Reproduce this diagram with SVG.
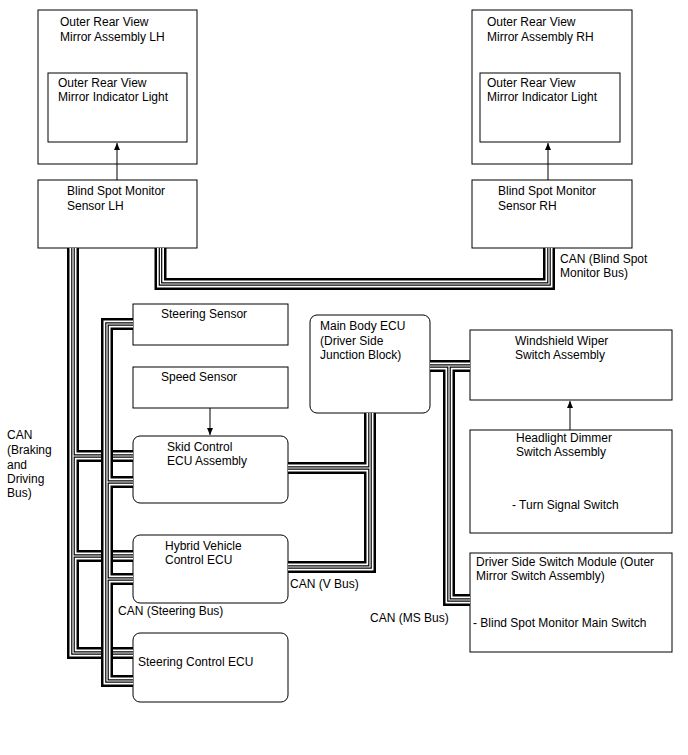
<svg xmlns="http://www.w3.org/2000/svg" width="688" height="755" viewBox="0 0 688 755">
<style>
text{font-family:"Liberation Sans",Arial,sans-serif;font-size:12px;fill:#000}
.box{fill:#fff;stroke:#000;stroke-width:1}
.b1{fill:none;stroke:#000;stroke-width:12}
.b2{fill:none;stroke:#fff;stroke-width:7}
.b3{fill:none;stroke:#000;stroke-width:3.6}
.b4{fill:none;stroke:#fff;stroke-width:1.2}
.arr{stroke:#000;stroke-width:1;fill:none;marker-end:url(#ah)}
</style>
<defs>
<marker id="ah" markerWidth="8" markerHeight="8" refX="7" refY="4" orient="auto" markerUnits="userSpaceOnUse">
<path d="M0,1 L7,4 L0,7 Z" fill="#000"/>
</marker>
<path id="busBSM" d="M160.5,248 V284 H549 V248"/>
<path id="busBD" d="M73,248 V653 H133 M73,456 H133 M73,556 H133"/>
<path id="busST" d="M133,324 H107 V681 H133 M107,482 H133 M107,579 H133"/>
<path id="busV" d="M370,413 V567 H288 M370,468 H288"/>
<path id="busMS" d="M430,366 H470 M449,366 V600 H470"/>
</defs>
<g id="mirrorLH">
<rect class="box" x="38" y="10" width="159" height="154"/>
<text x="60" y="26">Outer Rear View</text>
<text x="60" y="41">Mirror Assembly LH</text>
</g>
<g id="indicatorLH">
<rect class="box" x="48" y="73" width="139" height="69"/>
<text x="58" y="87">Outer Rear View</text>
<text x="58" y="101">Mirror Indicator Light</text>
</g>
<g id="sensorLH">
<rect class="box" x="38" y="180" width="159" height="68"/>
<text x="67" y="195">Blind Spot Monitor</text>
<text x="67" y="210">Sensor LH</text>
</g>
<g id="mirrorRH">
<rect class="box" x="472" y="10" width="160" height="154"/>
<text x="487" y="26">Outer Rear View</text>
<text x="487" y="41">Mirror Assembly RH</text>
</g>
<g id="indicatorRH">
<rect class="box" x="480" y="73" width="140" height="69"/>
<text x="487" y="87">Outer Rear View</text>
<text x="487" y="101">Mirror Indicator Light</text>
</g>
<g id="sensorRH">
<rect class="box" x="472" y="180" width="160" height="68"/>
<text x="498" y="195">Blind Spot Monitor</text>
<text x="498" y="210">Sensor RH</text>
</g>
<g id="steeringSensor">
<rect class="box" x="133" y="304" width="155" height="41"/>
<text x="161" y="318">Steering Sensor</text>
</g>
<g id="speedSensor">
<rect class="box" x="133" y="367" width="155" height="41"/>
<text x="161" y="381">Speed Sensor</text>
</g>
<g id="skidControl">
<rect class="box" x="133" y="436" width="155" height="67" rx="7"/>
<text x="167" y="451">Skid Control</text>
<text x="167" y="465">ECU Assembly</text>
</g>
<g id="hybridECU">
<rect class="box" x="133" y="535" width="155" height="68" rx="7"/>
<text x="165" y="550">Hybrid Vehicle</text>
<text x="165" y="564">Control ECU</text>
</g>
<g id="steeringControl">
<rect class="box" x="133" y="633" width="155" height="69" rx="7"/>
<text x="138" y="666">Steering Control ECU</text>
</g>
<g id="mainBody">
<rect class="box" x="310" y="315" width="120" height="98" rx="7"/>
<text x="320" y="330">Main Body ECU</text>
<text x="320" y="345">(Driver Side</text>
<text x="320" y="359">Junction Block)</text>
</g>
<g id="wiperSwitch">
<rect class="box" x="470" y="330" width="202" height="70"/>
<text x="515" y="345">Windshield Wiper</text>
<text x="515" y="359">Switch Assembly</text>
</g>
<g id="headlightSwitch">
<rect class="box" x="470" y="430" width="202" height="103"/>
<text x="516" y="442">Headlight Dimmer</text>
<text x="516" y="456">Switch Assembly</text>
<text x="512" y="509">- Turn Signal Switch</text>
</g>
<g id="driverSwitch">
<rect class="box" x="470" y="553" width="202" height="99"/>
<text x="476" y="566">Driver Side Switch Module (Outer</text>
<text x="476" y="580">Mirror Switch Assembly)</text>
<text x="473" y="627">- Blind Spot Monitor Main Switch</text>
</g>
<g id="connectors">
<g id="bus-bsm"><use href="#busBSM" class="b1"/><use href="#busBSM" class="b2"/><use href="#busBSM" class="b3"/><use href="#busBSM" class="b4"/></g>
<g id="bus-bd"><use href="#busBD" class="b1"/><use href="#busBD" class="b2"/><use href="#busBD" class="b3"/><use href="#busBD" class="b4"/></g>
<g id="bus-st"><use href="#busST" class="b1"/><use href="#busST" class="b2"/><use href="#busST" class="b3"/><use href="#busST" class="b4"/></g>
<g id="bus-v"><use href="#busV" class="b1"/><use href="#busV" class="b2"/><use href="#busV" class="b3"/><use href="#busV" class="b4"/></g>
<g id="bus-ms"><use href="#busMS" class="b1"/><use href="#busMS" class="b2"/><use href="#busMS" class="b3"/><use href="#busMS" class="b4"/></g>
<line class="arr" x1="117" y1="180" x2="117" y2="143"/>
<line class="arr" x1="548" y1="180" x2="548" y2="143"/>
<line class="arr" x1="210" y1="408" x2="210" y2="435"/>
<line class="arr" x1="570" y1="430" x2="570" y2="401"/>
<text x="560" y="263">CAN (Blind Spot</text>
<text x="560" y="277">Monitor Bus)</text>
<text x="7" y="439">CAN</text>
<text x="7" y="454">(Braking</text>
<text x="7" y="469">and</text>
<text x="7" y="483">Driving</text>
<text x="7" y="497">Bus)</text>
<text x="118" y="615">CAN (Steering Bus)</text>
<text x="290" y="588">CAN (V Bus)</text>
<text x="370" y="622">CAN (MS Bus)</text>
</g>
</svg>
